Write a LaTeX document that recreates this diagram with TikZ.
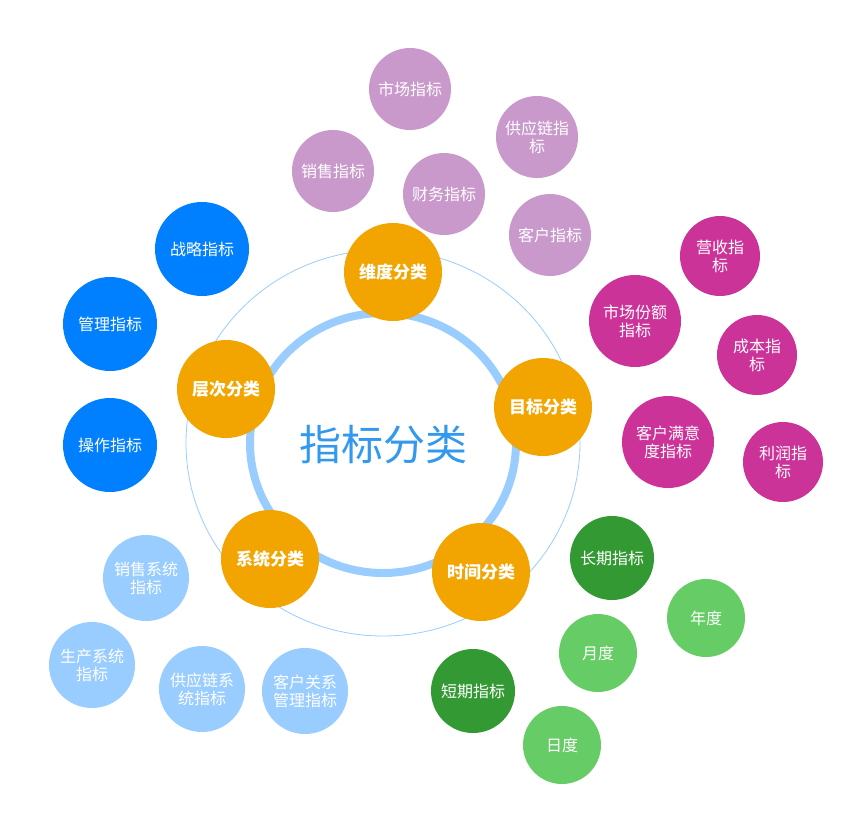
\documentclass[tikz,border=0pt]{standalone}
\usepackage{fontspec}
\setmainfont{Noto Sans CJK SC}
\definecolor{org}{HTML}{F2A500}
\definecolor{pur}{HTML}{C999CC}
\definecolor{mag}{HTML}{CC3399}
\definecolor{dgr}{HTML}{339933}
\definecolor{lgr}{HTML}{66CC66}
\definecolor{blu}{HTML}{0080FF}
\definecolor{lbl}{HTML}{99CCFF}
\definecolor{ctr}{HTML}{3399EE}
\tikzset{
 bub/.style={circle,inner sep=0pt,align=center,text=white,font=\fontsize{16}{18}\selectfont},
 main/.style={bub,fill=org,minimum size=98pt,font=\bfseries\fontsize{17}{20}\selectfont},
}
\begin{document}
\begin{tikzpicture}[x=1pt,y=-1pt]
\useasboundingbox (0,0) rectangle (856,815);
\coordinate (c) at (383,443);
\draw[lbl,line width=0.8pt] (c) ellipse (197 and 193);
\draw[lbl,line width=8pt] (c) ellipse (133 and 130);
\node[text=ctr,font=\fontsize{42}{46}\selectfont] (center) at (383,445) {指标分类};
\node[main] (m1) at (393,272) {维度分类};
\node[main] (m2) at (543,407) {目标分类};
\node[main] (m3) at (481,572) {时间分类};
\node[main] (m4) at (270,559) {系统分类};
\node[main] (m5) at (226,389) {层次分类};
\foreach \n/\x/\y/\r/\c/\t in {
 p1/410/89/41/pur/市场指标, p2/537/137/41/pur/供应链指\\标, p3/333/171/41/pur/销售指标,
 p4/444/194/41/pur/财务指标, p5/550/235/41/pur/客户指标,
 g1/720/256/40/mag/营收指\\标, g2/635/321/46/mag/市场份额\\指标, g3/757/355/40/mag/成本指\\标,
 g4/668/442/46/mag/客户满意\\度指标, g5/783/462/40/mag/利润指\\标,
 d1/612/558/42/dgr/长期指标, d2/473/691/42/dgr/短期指标,
 l1/706/618/39/lgr/年度, l2/598/653/39/lgr/月度, l3/562/745/39/lgr/日度,
 b1/202/249/47/blu/战略指标, b2/110/324/47/blu/管理指标, b3/110/445/47/blu/操作指标,
 s1/146/578/43/lbl/销售系统\\指标, s2/92/665/43/lbl/生产系统\\指标,
 s3/202/689/43/lbl/供应链系\\统指标, s4/305/691/43/lbl/客户关系\\管理指标}
 \node[bub,fill=\c,minimum size=2*\r] (\n) at (\x,\y) {\t};
\end{tikzpicture}
\end{document}
